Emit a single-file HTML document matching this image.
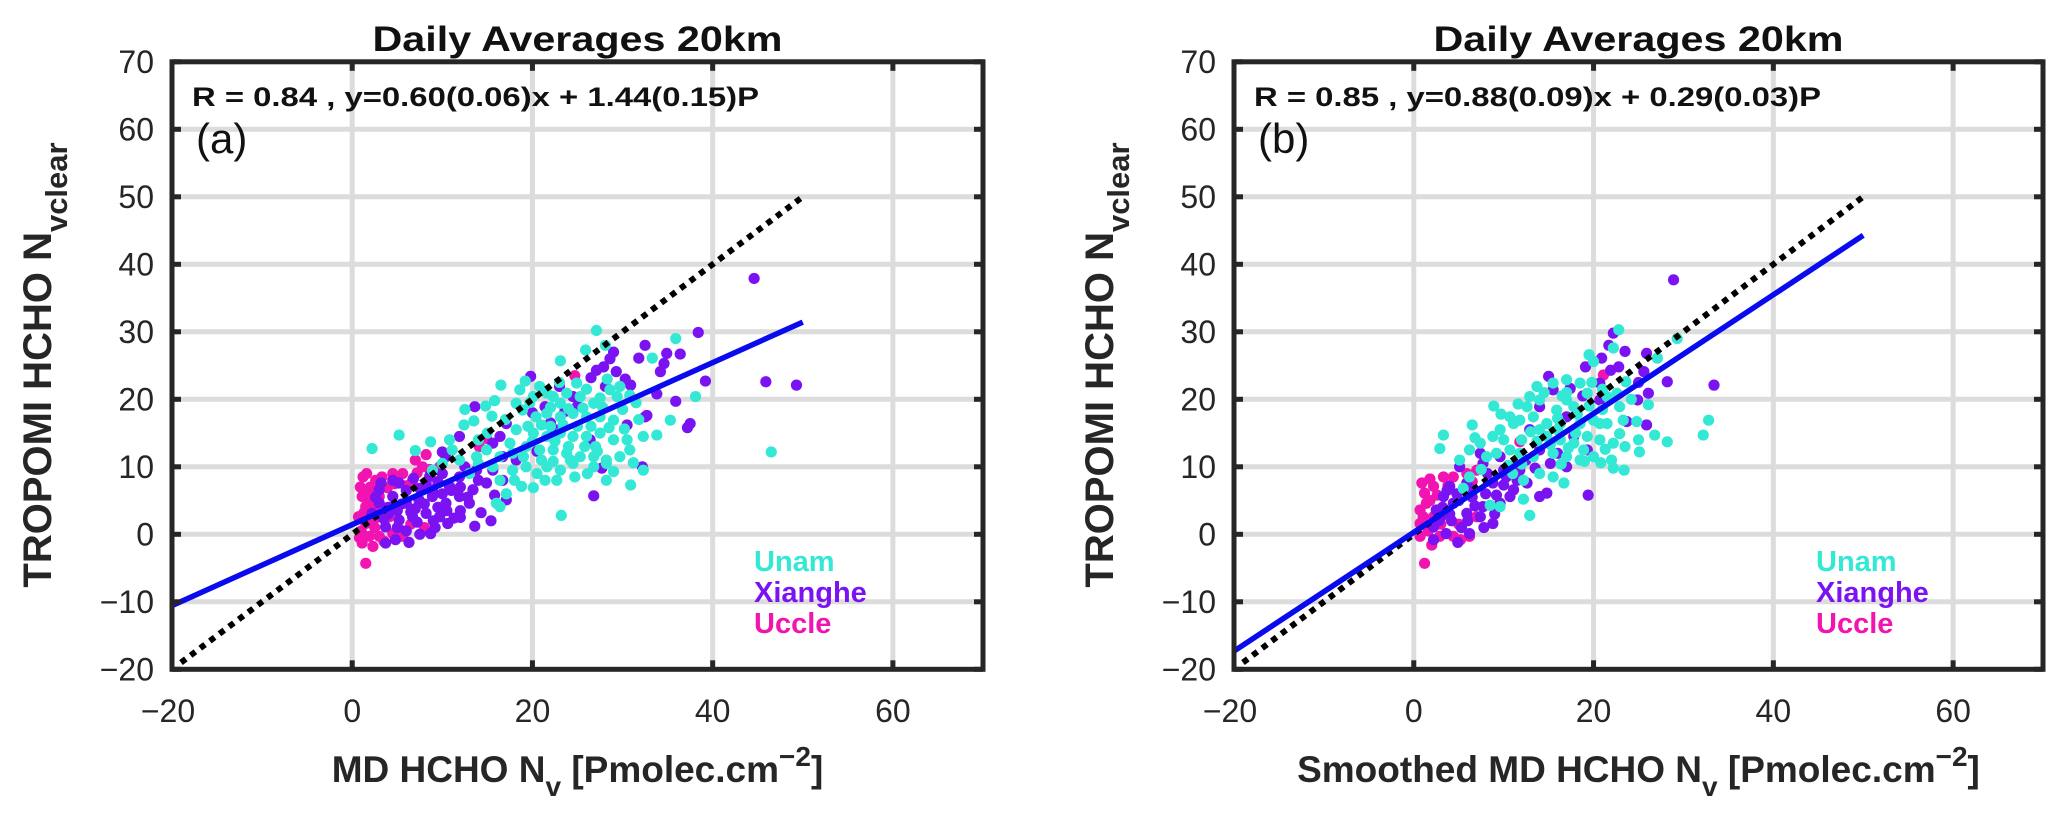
<!DOCTYPE html>
<html><head><meta charset="utf-8"><style>
html,body{margin:0;padding:0;background:#fff;}
svg{display:block;font-family:"Liberation Sans",sans-serif;}
</style></head><body>
<svg id="chart" width="2067" height="823" viewBox="0 0 2067 823" xmlns="http://www.w3.org/2000/svg"></svg>
<script>
// ---- data ----
const xTicks = [-20, 0, 20, 40, 60];
const yTicks = [-20, -10, 0, 10, 20, 30, 40, 50, 60, 70];
const seriesNames = ["Uccle", "Xianghe", "Unam"];
const fitA = [0.60, 1.44];
const fitB = [0.88, 0.29];
const annotationA = "R = 0.84 , y=0.60(0.06)x + 1.44(0.15)P";
const annotationB = "R = 0.85 , y=0.88(0.09)x + 0.29(0.03)P";

const unamA = [[27.1,30.2],[25.9,27.3],[28.1,28],[23.1,25.7],[35.9,29],[33.3,26.1],[38.1,20.4],[35.3,16.9],[33.8,14.7],[32.3,14.5],[32.3,9.5],[30.9,7.3],[28.2,8],[23.2,2.8],[46.5,12.2],[16.5,22.1],[12.5,18.5],[14.8,19],[12.4,16.2],[8.7,13.7],[5.2,14.7],[2.2,12.7],[16.4,4.1],[18.8,7.1],[20.1,6.9],[21.4,8],[22.7,8],[24.7,8.5],[18.6,21.4],[20.8,21.9],[20.1,20.4],[22.3,20.4],[23.8,20.9],[25.3,20.4],[26.8,19.4],[28.6,21.4],[29.7,21.9],[29.4,20.4],[18.9,18.4],[20.4,17.4],[21.6,17.9],[23.1,17.4],[24.5,17.9],[26,17.4],[27.5,17.4],[29,16.9],[18.2,15.5],[20.1,15],[21.6,14.5],[23.1,15],[24.5,14.5],[26,14.5],[27.5,15],[29,14],[30.5,14],[17.5,13.5],[19.3,13],[20.8,12.5],[22.3,12.5],[23.8,12],[25.3,11.5],[26.8,11.5],[28.2,11],[29.7,11.5],[16.4,11.5],[14.9,12.5],[13.8,11.5],[11.9,11],[10,10.5],[8.9,9.5],[15.6,10],[17.8,9.5],[19.3,10],[21.6,10],[23.1,9.5],[24.5,10.5],[26.8,10],[28.2,10.5],[16.4,8],[17.1,6],[16,4.6],[13,9],[11.1,12.5],[21.6,20.9],[23.1,19.4],[24.9,22.4],[18.2,19.4],[19.5,16],[22,16],[25,16],[27,13],[30,18.5],[31.5,19.5],[31.8,17],[17,17],[15,15],[14,14],[19,11.5],[21,11],[22.5,13.8],[24,13],[25.8,13],[27.2,12.3],[20.5,9],[22,18.8],[24,18.6],[25.6,18.7],[27.8,18.8],[19.7,19.5],[21,16.2],[23.4,16.2],[26.5,16],[28.5,15.8],[30.2,15.6],[17.8,12],[20,13.8],[18,8],[14,10.5],[26,21.5],[27.5,20.2],[28.3,23],[30.8,20.6],[19.2,22.7],[23,22.5],[13.5,16.8],[15.5,17.5],[15.8,19.8],[10.8,14],[7,12.4],[24.2,11],[22.3,10.8],[26.1,9],[29,9.3],[30.8,12.5],[31.2,10.6]];
const xiangheA = [[44.6,37.9],[45.9,22.6],[49.3,22.1],[38.4,29.9],[39.2,22.7],[37.5,16.4],[37.2,15.8],[35.9,19.7],[36.4,26.7],[34.9,26.8],[34.6,25.3],[34.2,24.1],[32.5,28],[31.8,26.1],[33.8,20.8],[29,27],[29.3,24.1],[27.9,24.8],[27.1,24.3],[28.1,21.9],[30.9,22.1],[30.5,16.2],[32.5,17.4],[32.2,10],[26.8,5.7],[27.7,9.8],[24.5,20.4],[19.8,23.4],[23,21.9],[26.4,14],[21.4,18.9],[3,4.6],[4.5,5.6],[6,4.6],[7.4,5.1],[8.9,5.6],[10.4,4.6],[11.9,5.6],[13.4,6.6],[14.9,7.6],[6.7,2.6],[8.2,3.1],[9.7,2.6],[5.2,2.1],[3.7,1.1],[6.3,-1.2],[7.5,0],[8.7,0.1],[11.3,2.4],[13.6,1.2],[15.4,2],[17.1,5.1],[16.7,8],[15.6,9.5],[13.8,9.5],[11.9,8.5],[10.4,11.5],[11.9,14.5],[13.6,18.9],[10,12.2],[8.2,7.6],[5.2,7.6],[4.5,8],[3,6.6],[2.2,3.1],[3.7,-1.3],[4.8,-0.8],[8.9,6.6],[13,4.6],[10.8,7.1],[16.4,14.5],[17.1,16.4],[15.6,13.5],[16.7,11.5],[18.2,11],[32.7,17.6],[5,3.5],[7,3.8],[9.5,4],[12,3.5],[6,6.5],[7.5,6.8],[10,6],[12,7],[4,4],[20,18],[22,16.5],[25,19],[10,9],[12.5,10],[4,3],[5.5,4.5],[6.5,3.3],[8,4.5],[9,2],[10.5,3.5],[11,6.5],[12.8,5.5],[14,8],[3.5,2.3],[5,1],[6,0.5],[9.2,1],[10.6,1.6],[7.2,1.8],[8.6,8.6],[9.5,7.8],[6.8,8.3],[14.3,3.2],[15.8,5.8],[12,2.5],[2.6,5.5],[3.2,7.6],[26.5,23.2],[28.6,26],[30.3,23],[22.5,15.5],[20.5,12.3],[23.6,18.2]];
const uccleA = [[1.5,-4.3],[1.1,-1.3],[1.9,-0.3],[1.5,1.6],[2.2,4.1],[1.9,6.1],[2.6,8],[3.3,8.5],[4.5,9],[5.6,9],[6.7,8],[8.2,11.8],[7.8,10],[9.7,10],[1.5,4.1],[0.7,2.6],[3,-0.3],[4.5,0.1],[5.6,-0.3],[9.7,2.6],[3,5.6],[4.1,2.6],[1.1,5.6],[5.4,0.6],[14.9,14.2],[14.1,13],[24.7,23.5],[2,7],[1.2,8.5],[2.5,1],[6.5,1.5],[8,1],[2.8,3],[1,0.5],[1.3,3.2],[0.9,7],[2.3,-1.8],[2.4,2.2],[3.9,6.9],[4.7,7.5],[6,7.2],[7.2,9.1],[8.6,9.6],[1.6,9],[0.8,-0.5],[3.5,-1],[2,5],[5,8],[7,11]];

const unamB = [[22.8,30.3],[22.2,27.6],[19.5,26.6],[20,25.6],[27.1,26.1],[29.3,29],[32.8,16.9],[32.2,14.7],[28.2,13.7],[26.8,14.7],[25.1,12.2],[23.5,13],[23.4,9.5],[22.2,9.8],[22,11],[26.1,19.2],[24.8,16.7],[23.3,16.9],[22.9,18.9],[22.6,20.9],[21.5,20.4],[19.3,20.9],[17,22.9],[15.5,22.4],[13.7,21.9],[12.9,20.4],[12.6,18.9],[10.7,17.4],[8.9,19],[6.5,16.2],[3.3,14.7],[2.9,12.7],[5.1,11],[6.2,12.5],[7.4,13.5],[9.6,15.5],[11.1,16.4],[11.8,16.9],[13.3,17.4],[14.8,16.4],[16.3,16.4],[17.8,18.9],[18.5,16.4],[20,16.9],[21.5,16.4],[14.8,14.5],[16.3,14],[17.8,13.5],[19.3,14.5],[20.7,14],[22.2,13.5],[15.5,12],[17,11.5],[18.5,11],[20,11.5],[13.3,11.5],[11.8,12],[10.7,12.5],[9.2,12],[8.8,14.5],[8.1,11.5],[6.2,8.5],[5.5,6.8],[8.5,4.3],[9.6,4.1],[12.9,2.8],[12.2,8],[14,9],[15.5,8.5],[16.7,7.6],[14,19.9],[15.9,18.4],[17,19.9],[18.5,22.4],[20.7,16.4],[22.9,14.9],[18.9,12.5],[14,15.5],[16,15.5],[18,15],[12,14],[10,14],[17,21],[19.5,19],[21,18.5],[16.5,20.5],[14.5,21],[13,15.2],[15.2,13.3],[17.2,12.8],[19,10.8],[20.8,10.6],[21.3,12.6],[16.4,10.4],[12,10.4],[10.5,10.2],[9.7,17.8],[11.6,19.3],[16,17.2],[18.2,17.8],[19.8,22.5],[21,21.5],[23.6,22.6],[24.2,20],[25,14],[13.7,13.8],[7.5,9.6],[12.2,5.2],[11,9],[6.8,14.3]];
const xiangheB = [[28.9,37.7],[33.4,22.1],[28.2,22.6],[25.9,16.2],[24.9,19.9],[26.1,20.9],[23.5,27.1],[22.2,29.8],[21.7,28],[20.9,26.1],[19.1,24.8],[25.9,26.8],[25.6,24.1],[21.9,24.3],[19.4,5.8],[15,23.4],[14,18.9],[15.5,21.4],[17.4,21.6],[20.7,22.4],[23.7,16.7],[17,17.4],[17.8,14.5],[19.3,12.5],[17,10],[14.8,6.1],[14,5.6],[12.6,7.6],[11.1,6.6],[9.6,4.6],[8.8,1.6],[7.4,2.6],[5.9,3.1],[4.4,4.6],[3.3,5.6],[2.5,3.6],[2.2,1.1],[2.2,-0.8],[3.6,0.1],[4.9,-1.2],[6.2,0.1],[7.7,4.1],[8.8,7.6],[10.3,8.5],[11.8,9.5],[7.7,10.5],[7.4,12],[5.9,7.6],[4,7.1],[5.1,10],[9.6,11.5],[10.7,5.6],[12.9,15.5],[15.2,10.5],[14,12.5],[20.7,19.9],[4,3],[5,5],[6.5,5.5],[8,6],[3,2.5],[6,2],[9,3],[10,9.5],[3.2,4],[4.2,2],[5.3,1],[6.8,4.2],[7.8,1],[9.2,5.8],[10,7.3],[11.5,8],[3.7,6.5],[4.8,6],[6.2,6.8],[8.2,9],[2.8,2],[12.5,11],[13.5,9.8],[16,12],[18.8,20.5],[22.8,24.8],[25,22.5]];
const uccleB = [[1.2,-4.3],[0.7,-0.3],[1.04,2.6],[0.7,3.6],[1.2,6.1],[2.2,7.1],[3.3,8.5],[4.4,8.5],[5.9,9],[7,9.5],[1.4,4.6],[2.9,-0.3],[4.4,-0.3],[6.2,-0.3],[7,2.6],[2.2,2.6],[11.8,13.7],[21.1,23.6],[0.7,1.6],[1.8,5],[3,1.5],[5,1.5],[1.6,0.5],[2.6,5.8],[0.9,7.6],[2,-1.6],[3.8,7.2],[5.2,-0.8],[1.8,8.2],[6.5,7.8]];

// ---- layout ----
const NS = "http://www.w3.org/2000/svg";
const svg = document.getElementById("chart");
const colors = {Unam:"#33e8d4", Xianghe:"#7a12f2", Uccle:"#f214b0"};
const Y0 = 669.3, Y1 = 61.8;
function mk(tag, attrs, parent){
  const e = document.createElementNS(NS, tag);
  for (const k in attrs) e.setAttribute(k, attrs[k]);
  (parent||svg).appendChild(e);
  return e;
}
function panel(id, left, right, fit, ann, letter, xlabelPrefix, ylabelX, data){
  const g = mk("g", {});
  
  
  const X = v => left + (v + 20) * (right - left) / 90;
  const Y = v => Y0 - (v + 20) * (Y0 - Y1) / 90;
  for (const t of xTicks) { if (t === -20) continue;
    const l = mk("line", {x1:X(t), x2:X(t), y1:Y1, y2:Y0, stroke:"#dcdcdc", "stroke-width":5}, g);
    
    
  }
  for (const t of yTicks) { if (t === -20 || t === 70) continue;
    const l = mk("line", {x1:left, x2:right, y1:Y(t), y2:Y(t), stroke:"#dcdcdc", "stroke-width":5}, g);
    
    
  }
  const order = [["Uccle", data[2]], ["Xianghe", data[1]], ["Unam", data[0]]];
  for (const [name, pts] of order) {
    const sg = mk("g", {fill: colors[name]}, g);
    
    
    for (const p of pts) {
      const c = mk("circle", {cx:X(p[0]), cy:Y(p[1]), r:5.6}, sg);
      
      
    }
  }
  const d = mk("line", {x1:X(-19), y1:Y(-19), x2:X(50), y2:Y(50), stroke:"#000", "stroke-width":6, "stroke-dasharray":"6 6"}, g);
  
  
  const f = mk("line", {x1:X(-20), y1:Y(fit[0]*-20+fit[1]), x2:X(50), y2:Y(fit[0]*50+fit[1]), stroke:"#0a0aee", "stroke-width":5.5}, g);
  
  
  const b = mk("rect", {x:left, y:Y1, width:right-left, height:Y0-Y1, fill:"none", stroke:"#262626", "stroke-width":5}, g);
  
  
  for (const t of xTicks) {
    mk("line", {x1:X(t), x2:X(t), y1:Y0, y2:Y0-9, stroke:"#262626", "stroke-width":5}, g);
    mk("line", {x1:X(t), x2:X(t), y1:Y1, y2:Y1+9, stroke:"#262626", "stroke-width":5}, g);
    const tx = mk("text", {x:X(t) - (t<0?4:0), y:722, "text-anchor":"middle", "font-size":32, fill:"#262626"}, g);
    tx.textContent = t < 0 ? "\u2212" + Math.abs(t) : String(t);
    
    
  }
  for (const t of yTicks) {
    mk("line", {x1:left, x2:left+9, y1:Y(t), y2:Y(t), stroke:"#262626", "stroke-width":5}, g);
    mk("line", {x1:right, x2:right-9, y1:Y(t), y2:Y(t), stroke:"#262626", "stroke-width":5}, g);
    const ty = mk("text", {x:left-18, y:Y(t)+11, "text-anchor":"end", "font-size":32, fill:"#262626"}, g);
    ty.textContent = t < 0 ? "\u2212" + Math.abs(t) : String(t);
    
    
  }
  const cx = (left + right) / 2;
  const title = mk("text", {x:cx, y:51, "text-anchor":"middle", "font-size":35, "font-weight":"bold", fill:"#111", textLength:410, lengthAdjust:"spacingAndGlyphs"}, g);
  title.textContent = "Daily Averages 20km";
  
  
  const an = mk("text", {x:left+20, y:106, "font-size":27, "font-weight":"bold", fill:"#111", textLength:567, lengthAdjust:"spacingAndGlyphs"}, g);
  an.textContent = ann;
  
  
  const lt = mk("text", {x:left+24, y:153, "font-size":42, fill:"#111"}, g);
  lt.textContent = letter;
  
  
  const names = ["Unam", "Xianghe", "Uccle"];
  names.forEach((n, i) => {
    const t = mk("text", {x:left+582, y:571+i*31, "font-size":29, "font-weight":"bold", fill:colors[n]}, g);
    t.textContent = n;
    
    
  });
  const xl = mk("text", {x:cx, y:782, "text-anchor":"middle", "font-size":37, "font-weight":"bold", fill:"#262626"}, g);
  
  
  xl.innerHTML = xlabelPrefix + 'MD HCHO N<tspan dy="14" font-size="28">v</tspan><tspan dy="-14"> [Pmolec.cm</tspan><tspan dy="-16" font-size="28">\u22122</tspan><tspan dy="16">]</tspan>';
  const yl = mk("text", {x:0, y:0, "text-anchor":"middle", "font-size":40, "font-weight":"bold", fill:"#262626", transform:"translate(" + ylabelX + ",365) rotate(-90)"}, g);
  
  
  yl.innerHTML = 'TROPOMI HCHO N<tspan dy="16" font-size="31">vclear</tspan>';
}
panel("a", 172, 983, fitA, annotationA, "(a)", "", 51, [unamA, xiangheA, uccleA]);
panel("b", 1234, 2043, fitB, annotationB, "(b)", "Smoothed ", 1113, [unamB, xiangheB, uccleB]);
</script>
</body></html>
